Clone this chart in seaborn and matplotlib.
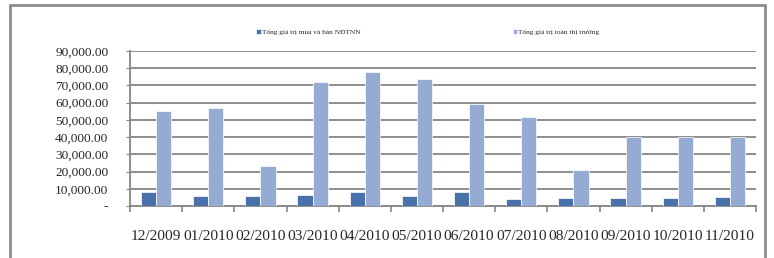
import matplotlib
matplotlib.use("Agg")
import matplotlib.pyplot as plt
import numpy as np
import pandas as pd
import seaborn as sns
from matplotlib.patches import Rectangle
from matplotlib.ticker import FuncFormatter

MONTHS = ["12/2009", "01/2010", "02/2010", "03/2010", "04/2010", "05/2010",
          "06/2010", "07/2010", "08/2010", "09/2010", "10/2010", "11/2010"]
FOREIGN_VALUE = [8300, 5800, 5600, 6400, 8300, 5800, 7950, 4250, 4450, 4800, 4450, 5000]
MARKET_VALUE = [55200, 57100, 23400, 71800, 78000, 73600, 59200, 51700, 20900, 40200, 40200, 40200]
SERIES_NAMES = ["Tổng giá trị mua và bán NĐTNN", "Tổng giá trị toàn thị trường"]
COLORS = ["#4872A9", "#95ABD4"]
GRID_GRAY = "#868686"

W, H = 774, 258


def build_frame() -> pd.DataFrame:
    a = pd.DataFrame({"month": MONTHS, "value": FOREIGN_VALUE, "series": SERIES_NAMES[0]})
    b = pd.DataFrame({"month": MONTHS, "value": MARKET_VALUE, "series": SERIES_NAMES[1]})
    return pd.concat([a, b], ignore_index=True)


def y_label(v, _pos):
    if v == 0:
        return "-"
    return f"{v:,.2f}"


def main() -> None:
    sns.set_style("white")
    plt.rcParams["font.family"] = ["Liberation Serif", "DejaVu Serif"]

    df = build_frame()
    fig = plt.figure(figsize=(W / 100, H / 100), dpi=100)
    fig.patch.set_facecolor("white")

    # outer chart frame
    fig.patches.append(Rectangle((10 / W, -0.05), 755 / W, 1.05 - 5 / H,
                                 transform=fig.transFigure, fill=False,
                                 edgecolor="#8C8C8C", linewidth=2.0))

    ax = fig.add_axes([130 / W, (H - 206) / H, 626 / W, 155 / H])
    sns.barplot(data=df, x="month", y="value", hue="series", palette=COLORS,
                saturation=1, width=0.58, edgecolor="white", linewidth=0.5,
                ax=ax, zorder=3)

    ax.set_ylim(0, 90000)
    ax.set_xlim(-0.5, len(MONTHS) - 0.5)
    ax.set_yticks(np.arange(0, 90001, 10000))
    ax.yaxis.set_major_formatter(FuncFormatter(y_label))
    ax.yaxis.grid(True, color=GRID_GRAY, linewidth=1.3, zorder=0)
    ax.set_axisbelow(True)
    ax.set_xlabel("")
    ax.set_ylabel("")

    for side in ["top", "right"]:
        ax.spines[side].set_visible(False)
    for side in ["left", "bottom"]:
        ax.spines[side].set_color(GRID_GRAY)
        ax.spines[side].set_linewidth(1.3)

    ax.tick_params(axis="y", labelsize=9.6, length=3, color=GRID_GRAY, pad=12.5, left=True)
    ax.tick_params(axis="x", which="major", labelsize=11.1, length=0, pad=17.5)
    ax.set_xticks(np.arange(-0.5, len(MONTHS), 1.0), minor=True)
    ax.tick_params(axis="x", which="minor", length=4, width=1.2, color=GRID_GRAY, bottom=True)

    handles, labels = ax.get_legend_handles_labels()
    ax.legend(handles, labels, ncol=2, loc="center", bbox_to_anchor=(428 / W, (H - 32) / H),
              bbox_transform=fig.transFigure, frameon=False, fontsize=5.3,
              handlelength=0.6, handleheight=0.6, handletextpad=0.2, columnspacing=20.6)

    fig.savefig("out.png", dpi=100)
    plt.close(fig)


if __name__ == "__main__":
    main()
